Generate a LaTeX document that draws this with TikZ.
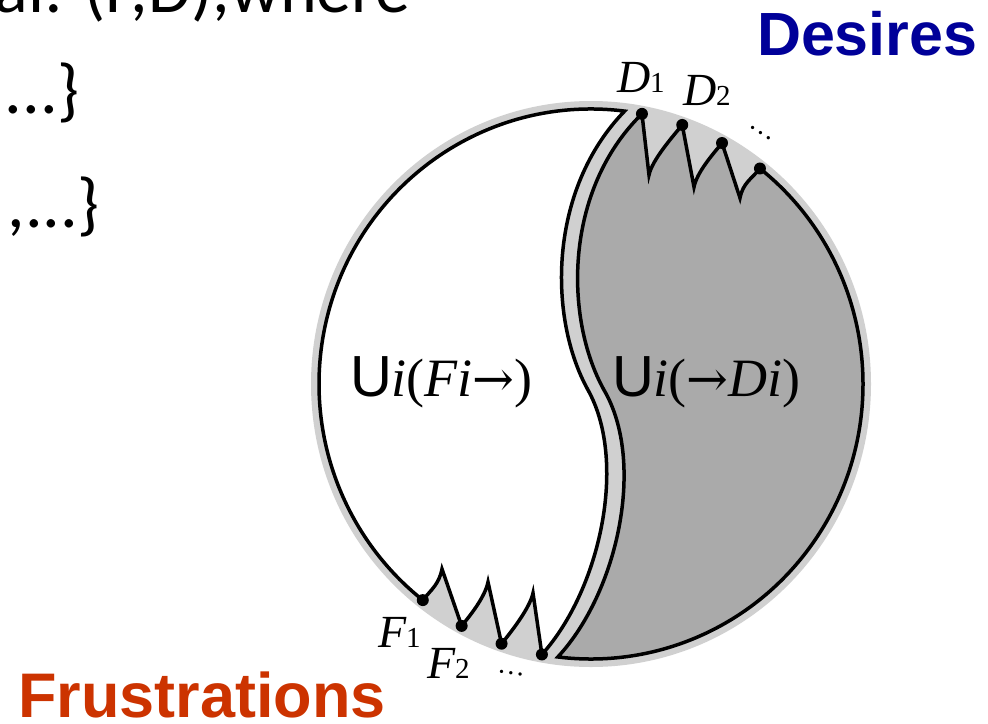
\documentclass[tikz,border=0pt]{standalone}
\usepackage{fontspec}
\setmainfont{Liberation Serif}
\newfontfamily\carl{Carlito}
\newfontfamily\lsans{Liberation Sans}
\newfontfamily\dvs{DejaVu Serif}
\usetikzlibrary{calc}
\definecolor{bandgray}{RGB}{208,208,208}
\definecolor{regiongray}{RGB}{170,170,170}
\definecolor{desblue}{RGB}{0,0,153}
\definecolor{frusred}{RGB}{204,51,0}
\begin{document}
\begin{tikzpicture}[x=1pt,y=-1pt,
  outline/.style={draw=black,line width=3.5pt},
  dotmark/.style={circle,fill=black,inner sep=0pt,minimum size=12pt},
  plain/.style={inner sep=0pt,outer sep=0pt},
  bigsans/.style={plain,font=\lsans\bfseries\fontsize{61}{61}\selectfont},
  slide/.style={plain,font=\carl\fontsize{70}{70}\selectfont},
  ctr/.style={plain,font=\fontsize{54}{54}\selectfont}]
\useasboundingbox (0,0) rectangle (988,723);
\fill[white] (0,0) rectangle (988,723);
\clip (0,0) rectangle (988,723);

\coordinate (C) at (591,384);
\fill[bandgray] (C) ellipse [x radius=280pt, y radius=283pt];

% points on the outline ellipse
\coordinate (T)  at ($(C)+(82.9:272pt and 275pt)$);
\coordinate (D1) at ($(C)+(79.2:272pt and 275pt)$);
\coordinate (D2) at ($(C)+(70.4:272pt and 275pt)$);
\coordinate (D3) at ($(C)+(61.2:272pt and 275pt)$);
\coordinate (D4) at ($(C)+(51.6:272pt and 275pt)$);
\coordinate (B)  at ($(C)+(263:272pt and 275pt)$);
\coordinate (F4) at ($(C)+(259.6:272pt and 275pt)$);
\coordinate (F3) at ($(C)+(250.8:272pt and 275pt)$);
\coordinate (F2) at ($(C)+(241.6:272pt and 275pt)$);
\coordinate (F1) at ($(C)+(231.8:272pt and 275pt)$);
\coordinate (V1) at (649,175);
\coordinate (V2) at (694,187);
\coordinate (V3) at (740,198);
\coordinate (P1) at (442,569);
\coordinate (P2) at (488,582);
\coordinate (P3) at (533,593);

% white region (frustrations side)
\filldraw[outline,fill=white] (T)
  arc[start angle=82.9, end angle=231.8, x radius=272pt, y radius=275pt]
  .. controls +(9,-11) and +(-3,15) .. (P1) -- (F2)
  .. controls +(9,-11) and +(-3,15) .. (P2) -- (F3)
  .. controls +(9,-11) and +(-3,15) .. (P3) -- (F4)
  .. controls (600,590) and (628,462) .. (588,390)
  .. controls (548,318) and (548,190) .. (T) -- cycle;

% dark region (desires side)
\filldraw[outline,fill=regiongray] (D1) -- (V1)
  .. controls +(3,-15) and +(-9,11) .. (D2) -- (V2)
  .. controls +(3,-15) and +(-9,11) .. (D3) -- (V3)
  .. controls +(3,-15) and +(-9,11) .. (D4)
  arc[start angle=51.6, end angle=-97, x radius=272pt, y radius=275pt]
  .. controls (618,592) and (646,462) .. (604,390)
  .. controls (564,318) and (564,190) .. (D1) -- cycle;

% dots
\foreach \p in {D1,D2,D3,D4,F1,F2,F3,F4}{\node[dotmark] (dot\p) at (\p) {};}

% point labels
\node[plain,anchor=base west] (lD1) at (617,92) {\fontsize{46}{46}\selectfont\itshape D\fontsize{29}{29}\selectfont\upshape 1};
\node[plain,anchor=base west] (lD2) at (683,105) {\fontsize{46}{46}\selectfont\itshape D\fontsize{29}{29}\selectfont\upshape 2};
\node[plain,rotate=-33] (lDdots) at (761,133) {\fontsize{28}{28}\selectfont …};
\node[plain,anchor=base west] (lF1) at (378,647) {\fontsize{46}{46}\selectfont\itshape F\fontsize{29}{29}\selectfont\upshape 1};
\node[plain,anchor=base west] (lF2) at (427,678) {\fontsize{46}{46}\selectfont\itshape F\fontsize{29}{29}\selectfont\upshape 2};
\node[plain,rotate=-8] (lFdots) at (511,673) {\fontsize{28}{28}\selectfont …};

% region labels
\node[ctr,anchor=base west] (lfrus) at (350,396) {{\lsans\fontsize{58}{58}\selectfont U}\textit{i}(\textit{Fi}{\dvs\fontsize{50}{50}\selectfont →})};
\node[ctr,anchor=base west] (ldes) at (612,396) {{\lsans\fontsize{58}{58}\selectfont U}\textit{i}({\dvs\fontsize{50}{50}\selectfont →}\textit{Di})};

% slide texts
\node[slide,anchor=base east] (line1) at (410,12) {al: (F,D),where};
\node[slide,anchor=base east] (line2) at (80,113) {...\}};
\node[slide,anchor=base east] (line3) at (100,227) {,...\}};
\node[bigsans,anchor=base west,text=desblue] (des) at (757,55) {Desires};
\node[bigsans,anchor=base west,text=frusred,font=\lsans\bfseries\fontsize{63}{63}\selectfont] (frus) at (18,717) {Frustrations};
\end{tikzpicture}
\end{document}
